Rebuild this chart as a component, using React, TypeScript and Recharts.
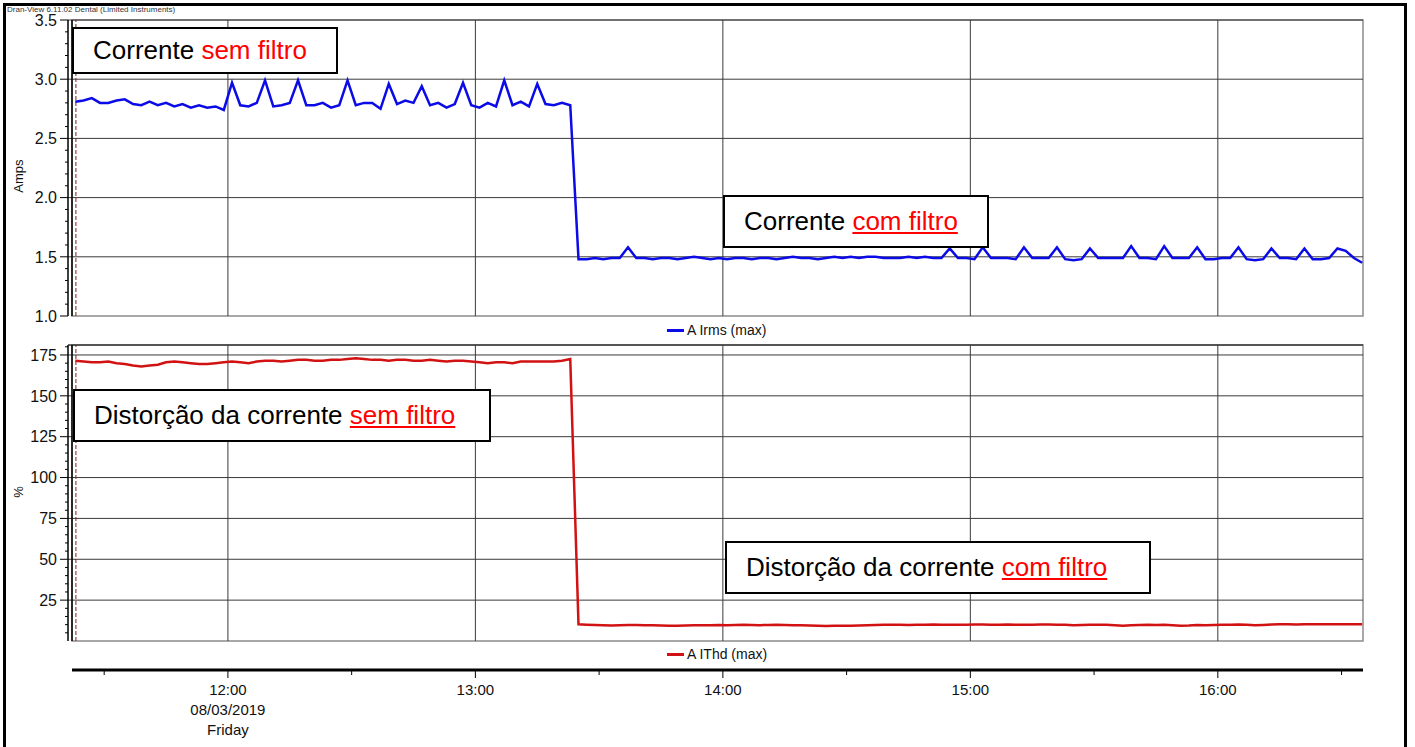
import React from "react";
import {
  LineChart,
  Line,
  XAxis,
  YAxis,
  ReferenceLine,
  ReferenceArea,
  Legend,
} from "recharts";

// samples every 2 minutes, time in minutes relative to 12:00 (first sample 11:23)
const T0 = -37;
const STEP = 2;

// A Irms (max), amps
const irms = [
  2.81, 2.82, 2.84, 2.80, 2.80, 2.82, 2.83, 2.79, 2.78, 2.81,
  2.78, 2.80, 2.77, 2.79, 2.76, 2.78, 2.76, 2.77, 2.74, 2.97,
  2.78, 2.77, 2.80, 2.99, 2.77, 2.78, 2.80, 2.99, 2.78, 2.78,
  2.80, 2.76, 2.78, 2.99, 2.78, 2.80, 2.80, 2.75, 2.96, 2.79,
  2.82, 2.80, 2.94, 2.78, 2.80, 2.76, 2.79, 2.97, 2.78, 2.76,
  2.80, 2.77, 2.99, 2.78, 2.81, 2.77, 2.96, 2.79, 2.78, 2.80,
  2.78, 1.48, 1.48, 1.49, 1.48, 1.49, 1.49, 1.58, 1.49, 1.49,
  1.48, 1.49, 1.49, 1.48, 1.49, 1.50, 1.49, 1.48, 1.49, 1.48,
  1.49, 1.49, 1.48, 1.49, 1.49, 1.48, 1.49, 1.50, 1.49, 1.49,
  1.48, 1.49, 1.50, 1.49, 1.50, 1.49, 1.50, 1.50, 1.49, 1.49,
  1.49, 1.50, 1.49, 1.50, 1.49, 1.49, 1.57, 1.49, 1.49, 1.48,
  1.58, 1.49, 1.49, 1.49, 1.48, 1.58, 1.49, 1.49, 1.49, 1.58,
  1.48, 1.47, 1.48, 1.57, 1.49, 1.49, 1.49, 1.49, 1.59, 1.49,
  1.49, 1.48, 1.59, 1.49, 1.49, 1.49, 1.58, 1.48, 1.48, 1.49,
  1.49, 1.58, 1.48, 1.47, 1.48, 1.57, 1.49, 1.49, 1.48, 1.57,
  1.48, 1.48, 1.49, 1.57, 1.55, 1.49, 1.45,
];

// A IThd (max), %
const ithd = [
  171.5, 171, 170.5, 170.5, 171, 170, 169.5, 168.5, 168, 168.5,
  169, 170.5, 171, 170.5, 170, 169.5, 169.5, 170, 170.5, 171,
  170.5, 170, 171, 171.5, 171.5, 171, 171.5, 172, 172, 171.5,
  171.5, 172, 172, 172.5, 173, 172.5, 172, 172, 171.5, 172,
  172, 171.5, 171.5, 172, 171.5, 171, 171.5, 171.5, 171, 170.5,
  170, 170.5, 170.5, 170, 171, 171, 171, 171, 171, 171.5,
  172.5, 10.2, 10.0, 9.8, 9.6, 9.5, 9.6, 9.8, 9.8, 9.7,
  9.6, 9.5, 9.4, 9.4, 9.5, 9.6, 9.7, 9.7, 9.8, 9.7,
  9.8, 9.9, 9.8, 9.7, 9.8, 9.9, 9.8, 9.7, 9.6, 9.5,
  9.3, 9.2, 9.3, 9.4, 9.4, 9.5, 9.6, 9.8, 9.9, 10.0,
  9.9, 9.8, 9.9, 10.0, 10.1, 10.0, 10.0, 9.9, 10.0, 10.1,
  10.1, 10.0, 10.0, 10.1, 10.0, 9.9, 10.0, 10.1, 10.1, 10.0,
  9.9, 9.7, 9.8, 9.9, 10.0, 9.9, 9.6, 9.4, 9.6, 9.8,
  9.9, 9.8, 9.9, 9.6, 9.4, 9.5, 9.8, 9.7, 9.8, 9.9,
  10.0, 10.1, 9.9, 9.6, 9.8, 10.1, 10.2, 10.2, 10.1, 10.2,
  10.2, 10.2, 10.2, 10.2, 10.2, 10.2, 10.2,
];

const hourTicks = [0, 60, 120, 180, 240];
const hourLabels = ["12:00", "13:00", "14:00", "15:00", "16:00"];
const halfHourTicks = [-30, 30, 90, 150, 210, 270];
const dateLines = ["08/03/2019", "Friday"];

const ampMajor = [1.0, 1.5, 2.0, 2.5, 3.0, 3.5];
const pctMajor = [25, 50, 75, 100, 125, 150, 175];

const X_DOMAIN = [-37.8, 275.2];
const AMP_DOMAIN = [1, 3.5];
const PCT_DOMAIN = [0, 181.1];
const MARKER_T = -36.85;

const FONT = '"Liberation Sans", Arial, sans-serif';
const BLUE = "#0b0be8";
const RED = "#d21212";
const GRID = "#3a3a3a";
const FRAME = "#8c8c8c";

const rows = irms.map((v, i) => ({ t: T0 + i * STEP, irms: v, ithd: ithd[i] }));

// minor ticks, 5 per major step
function withMinor(majors: number[], lo: number, hi: number) {
  const step = (majors[1] - majors[0]) / 5;
  const out: number[] = [];
  for (let v = lo; v <= hi + 1e-9; v += step) out.push(Math.round(v * 100) / 100);
  return out;
}
const ampTicks = withMinor(ampMajor, 1.0, 3.5);
const pctTicks = withMinor(pctMajor, 5, 180);

function yTick(majors: number[], fmt: (v: number) => string) {
  return (p: any) => {
    const { x, y, payload } = p;
    const major = majors.some((m) => Math.abs(m - payload.value) < 1e-6);
    return (
      <g>
        <line x1={x} x2={x - (major ? 8 : 3)} y1={y} y2={y} stroke="#000" strokeWidth={1} />
        {major && (
          <text x={x - 11} y={y} dy="0.36em" textAnchor="end" fontSize={16} fill="#111" fontFamily={FONT}>
            {fmt(payload.value)}
          </text>
        )}
      </g>
    );
  };
}

function XTick(p: any) {
  const { x, y, payload } = p;
  const idx = hourTicks.indexOf(payload.value);
  const major = idx >= 0;
  return (
    <g>
      <line x1={x} x2={x} y1={y} y2={y + (major ? 8 : 5)} stroke="#000" strokeWidth={1} />
      {major && (
        <text x={x} y={y + 25} textAnchor="middle" fontSize={15} fill="#111" fontFamily={FONT}>
          <tspan x={x}>{hourLabels[idx]}</tspan>
          {idx === 0 &&
            dateLines.map((d, k) => (
              <tspan key={k} x={x} dy={20}>
                {d}
              </tspan>
            ))}
        </text>
      )}
    </g>
  );
}

function LegendItem({ color, label }: { color: string; label: string }) {
  return (
    <div style={{ display: "flex", alignItems: "center", fontFamily: FONT, fontSize: 14, color: "#111", whiteSpace: "nowrap" }}>
      <span style={{ display: "inline-block", width: 17, height: 3, background: color, marginRight: 3 }} />
      {label}
    </div>
  );
}

function AxisTitle({ x, y, text }: { x: number; y: number; text: string }) {
  return (
    <text x={x} y={y} transform={`rotate(-90 ${x} ${y})`} textAnchor="middle" dy="0.35em" fontSize={13} fill="#111" fontFamily={FONT}>
      {text}
    </text>
  );
}

function Note({
  left,
  top,
  width,
  height,
  text,
  red,
  underline,
}: {
  left: number;
  top: number;
  width: number;
  height: number;
  text: string;
  red: string;
  underline: boolean;
}) {
  return (
    <div
      style={{
        position: "absolute",
        left,
        top,
        width,
        height,
        boxSizing: "border-box",
        border: "2px solid #000",
        background: "#fff",
        display: "flex",
        alignItems: "center",
        paddingLeft: 19,
        fontFamily: FONT,
        fontSize: 26,
        color: "#000",
        whiteSpace: "nowrap",
      }}
    >
      {text}&nbsp;
      <span style={{ color: "#f00", textDecoration: underline ? "underline" : "none" }}>{red}</span>
    </div>
  );
}

function gridLines(values: number[]) {
  return values.map((v) => <ReferenceLine key={"h" + v} y={v} stroke={GRID} strokeWidth={1} />);
}
function hourLines() {
  return hourTicks.map((v) => <ReferenceLine key={"v" + v} x={v} stroke={GRID} strokeWidth={1} />);
}

export default function App() {
  return (
    <div style={{ position: "relative", width: 1415, height: 747, background: "#fff", overflow: "hidden" }}>
      <style>{`body{margin:0;background:#fff}`}</style>

      {/* outer frame */}
      <div style={{ position: "absolute", left: 3, top: 3, width: 1404, height: 760, border: "3px solid #000", boxSizing: "border-box" }} />
      <div style={{ position: "absolute", left: 7, top: 5, fontFamily: FONT, fontSize: 8, color: "#333", whiteSpace: "nowrap" }}>
        Dran-View 6.11.02 Dental (Limited Instruments)
      </div>

      {/* Irms panel */}
      <div style={{ position: "absolute", left: 0, top: 0 }}>
        <LineChart width={1415} height={340} data={rows} margin={{ top: 20, right: 52, bottom: 24, left: 8 }}>
          <XAxis type="number" dataKey="t" domain={X_DOMAIN} hide padding={{ left: 4, right: 0 }} allowDataOverflow />
          <YAxis
            type="number"
            domain={AMP_DOMAIN}
            ticks={ampTicks}
            interval={0}
            width={60}
            tickLine={false}
            tickSize={0}
            tickMargin={0}
            axisLine={{ stroke: "#000", strokeWidth: 1.5 }}
            tick={yTick(ampMajor, (v) => v.toFixed(1))}
            allowDataOverflow
          />
          <ReferenceArea x1={X_DOMAIN[0]} x2={X_DOMAIN[1]} y1={AMP_DOMAIN[0]} y2={AMP_DOMAIN[1]} fill="none" stroke={FRAME} strokeWidth={1.5} />
          {gridLines(ampMajor.slice(1))}
          {hourLines()}
          <ReferenceLine x={X_DOMAIN[0]} stroke="#000" strokeWidth={1.5} />
          <ReferenceLine x={MARKER_T} stroke="#8a1c1c" strokeWidth={1} strokeDasharray="4 2" />
          <Line type="linear" dataKey="irms" stroke={BLUE} strokeWidth={2.5} dot={false} isAnimationActive={false} />
          <Legend
            layout="vertical"
            align="center"
            verticalAlign="middle"
            wrapperStyle={{ top: 322, left: 667, width: "auto", height: "auto" }}
            content={() => <LegendItem color={BLUE} label="A Irms (max)" />}
          />
          <AxisTitle x={18} y={176} text="Amps" />
        </LineChart>
      </div>

      {/* IThd panel */}
      <div style={{ position: "absolute", left: 0, top: 330 }}>
        <LineChart width={1415} height={330} data={rows} margin={{ top: 15, right: 52, bottom: 19, left: 8 }}>
          <XAxis type="number" dataKey="t" domain={X_DOMAIN} hide padding={{ left: 4, right: 0 }} allowDataOverflow />
          <YAxis
            type="number"
            domain={PCT_DOMAIN}
            ticks={pctTicks}
            interval={0}
            width={60}
            tickLine={false}
            tickSize={0}
            tickMargin={0}
            axisLine={{ stroke: "#000", strokeWidth: 1.5 }}
            tick={yTick(pctMajor, (v) => String(v))}
            allowDataOverflow
          />
          <ReferenceArea x1={X_DOMAIN[0]} x2={X_DOMAIN[1]} y1={PCT_DOMAIN[0]} y2={PCT_DOMAIN[1]} fill="none" stroke={FRAME} strokeWidth={1.5} />
          <ReferenceLine y={PCT_DOMAIN[1]} stroke={GRID} strokeWidth={1.5} />
          {gridLines(pctMajor)}
          {hourLines()}
          <ReferenceLine x={X_DOMAIN[0]} stroke="#000" strokeWidth={1.5} />
          <ReferenceLine x={MARKER_T} stroke="#8a1c1c" strokeWidth={1} strokeDasharray="4 2" />
          <Line type="linear" dataKey="ithd" stroke={RED} strokeWidth={2.5} dot={false} isAnimationActive={false} />
          <Legend
            layout="vertical"
            align="center"
            verticalAlign="middle"
            wrapperStyle={{ top: 316, left: 667, width: "auto", height: "auto" }}
            content={() => <LegendItem color={RED} label="A IThd (max)" />}
          />
          <AxisTitle x={18} y={162} text="%" />
        </LineChart>
      </div>

      {/* shared time axis */}
      <div style={{ position: "absolute", left: 0, top: 650 }}>
        <LineChart width={1415} height={97} data={rows} margin={{ top: 19, right: 52, bottom: 0, left: 72 }}>
          <XAxis
            type="number"
            dataKey="t"
            domain={X_DOMAIN}
            ticks={[...halfHourTicks, ...hourTicks].sort((a, b) => a - b)}
            interval={0}
            height={77}
            tickLine={false}
            tickSize={0}
            tickMargin={0}
            axisLine={{ stroke: "#000", strokeWidth: 3 }}
            tick={XTick}
            allowDataOverflow
          />
          <YAxis hide domain={AMP_DOMAIN} />
          <Line dataKey="irms" stroke="none" dot={false} isAnimationActive={false} />
        </LineChart>
      </div>

      <Note left={72} top={27} width={266} height={47} text="Corrente" red="sem filtro" underline={false} />
      <Note left={723} top={195} width={266} height={53} text="Corrente" red="com filtro" underline={true} />
      <Note left={73} top={389} width={418} height={53} text="Distorção da corrente" red="sem filtro" underline={true} />
      <Note left={725} top={541} width={426} height={53} text="Distorção da corrente" red="com filtro" underline={true} />
    </div>
  );
}
